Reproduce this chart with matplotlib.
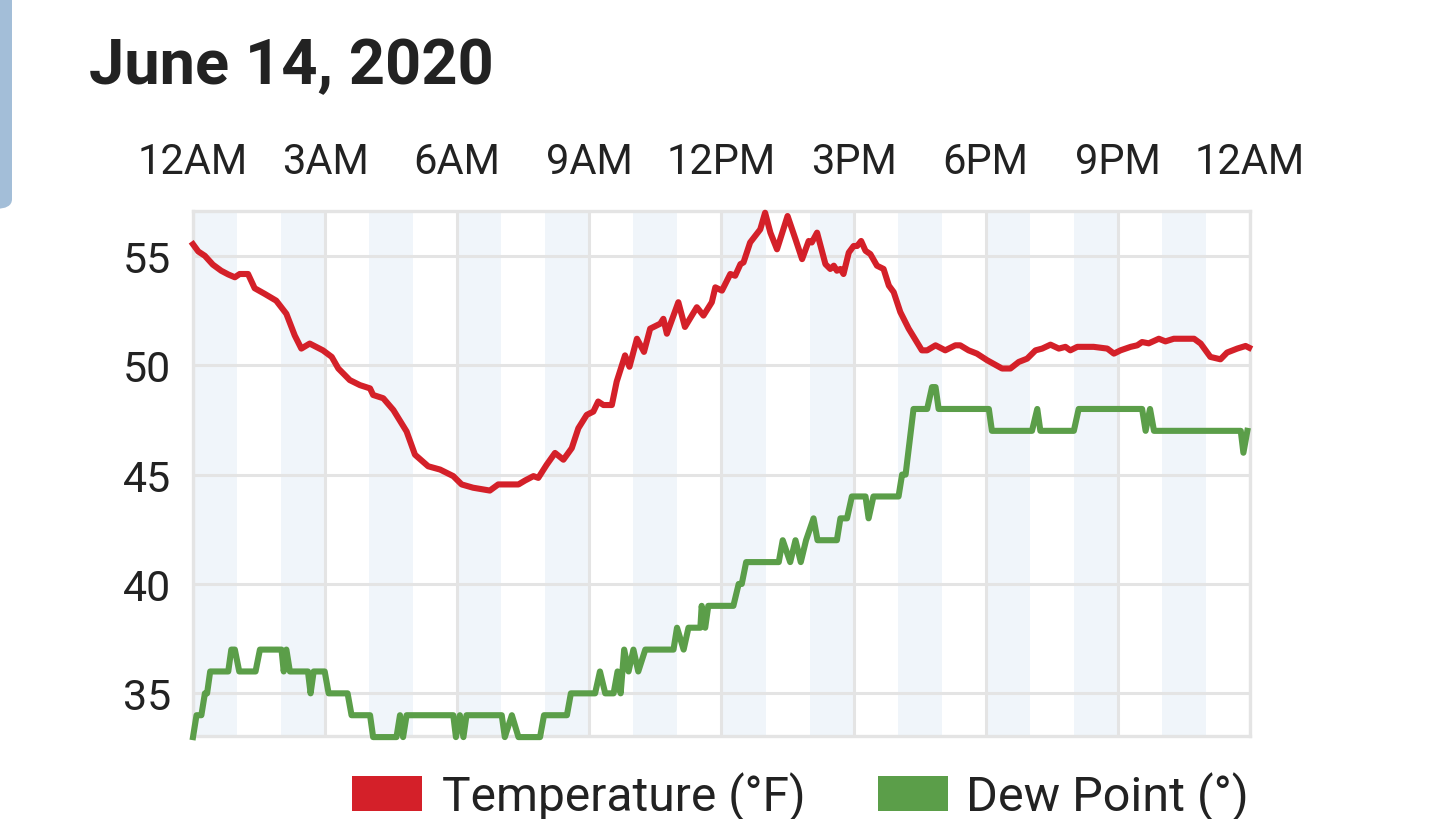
import matplotlib
matplotlib.use("Agg")
import matplotlib.pyplot as plt
from matplotlib.patches import Rectangle, FancyBboxPatch

# temperature (hours since midnight, deg F)
temp_hours = [0.00, 0.12, 0.27, 0.45, 0.64, 0.80, 0.95, 1.06, 1.25, 1.40, 1.63, 1.89, 2.12, 2.31,
              2.46, 2.65, 2.95, 3.15, 3.30, 3.56, 3.79, 4.02, 4.09, 4.32, 4.55, 4.85, 5.04, 5.34,
              5.61, 5.91, 6.10, 6.36, 6.74, 6.93, 7.39, 7.54, 7.73, 7.84, 8.03, 8.22, 8.41, 8.60,
              8.75, 8.94, 9.09, 9.20, 9.32, 9.51, 9.62, 9.81, 9.91, 10.08, 10.24, 10.38, 10.61,
              10.68, 10.76, 11.02, 11.17, 11.44, 11.59, 11.78, 11.86, 12.01, 12.20, 12.31, 12.43,
              12.50, 12.65, 12.88, 12.99, 13.11, 13.26, 13.50, 13.68, 13.83, 13.98, 14.05, 14.17,
              14.36, 14.47, 14.55, 14.62, 14.70, 14.77, 14.89, 15.00, 15.08, 15.17, 15.27, 15.38,
              15.53, 15.68, 15.80, 15.91, 16.06, 16.25, 16.55, 16.67, 16.86, 17.08, 17.31, 17.42,
              17.61, 17.80, 18.03, 18.37, 18.56, 18.75, 18.94, 19.13, 19.28, 19.47, 19.66, 19.81,
              19.92, 20.08, 20.45, 20.76, 20.91, 21.06, 21.29, 21.44, 21.55, 21.70, 21.93, 22.08,
              22.27, 22.73, 22.88, 23.10, 23.33, 23.48, 23.71, 23.90, 23.98]
temp_values = [55.53, 55.2, 55.0, 54.6, 54.32, 54.15, 54.02, 54.17, 54.17, 53.52, 53.26, 52.95,
               52.35, 51.36, 50.76, 50.99, 50.68, 50.38, 49.85, 49.32, 49.09, 48.94, 48.64, 48.49,
               47.95, 46.97, 45.91, 45.38, 45.23, 44.93, 44.55, 44.40, 44.27, 44.55, 44.55, 44.73,
               44.93, 44.85, 45.45, 45.99, 45.68, 46.21, 47.12, 47.73, 47.88, 48.34, 48.18, 48.18,
               49.25, 50.45, 49.93, 51.21, 50.61, 51.67, 51.90, 52.12, 51.44, 52.88, 51.75, 52.65,
               52.27, 52.88, 53.56, 53.41, 54.17, 54.09, 54.62, 54.70, 55.61, 56.21, 56.97, 56.06,
               55.30, 56.82, 55.76, 54.85, 55.68, 55.61, 56.06, 54.62, 54.40, 54.55, 54.32, 54.40,
               54.17, 55.15, 55.45, 55.45, 55.68, 55.23, 55.08, 54.55, 54.40, 53.64, 53.34, 52.43,
               51.67, 50.68, 50.68, 50.91, 50.68, 50.91, 50.91, 50.68, 50.53, 50.23, 49.85, 49.85,
               50.15, 50.30, 50.68, 50.76, 50.94, 50.76, 50.84, 50.68, 50.84, 50.84, 50.76, 50.53,
               50.68, 50.84, 50.91, 51.06, 51.00, 51.21, 51.09, 51.21, 51.21, 50.99, 50.38, 50.27,
               50.58, 50.76, 50.88, 50.80]

# dew point (hours since midnight, deg)
dew_hours = [0.00, 0.08, 0.19, 0.27, 0.32, 0.39, 0.80, 0.87, 0.95, 1.05, 1.42, 1.52, 2.01, 2.06,
             2.12, 2.20, 2.61, 2.67, 2.74, 2.99, 3.08, 3.51, 3.60, 4.02, 4.09, 4.62, 4.70, 4.77,
             4.85, 5.91, 5.97, 6.06, 6.14, 6.21, 7.01, 7.08, 7.24, 7.39, 7.88, 7.97, 8.49, 8.58,
             9.13, 9.24, 9.36, 9.55, 9.64, 9.71, 9.79, 9.89, 10.00, 10.11, 10.27, 10.91, 10.99,
             11.14, 11.25, 11.52, 11.55, 11.63, 11.70, 12.27, 12.39, 12.46, 12.56, 13.30, 13.39,
             13.56, 13.68, 13.80, 13.92, 14.09, 14.18, 14.62, 14.70, 14.85, 14.96, 15.27, 15.34,
             15.45, 16.02, 16.10, 16.18, 16.36, 16.67, 16.78, 16.86, 16.93, 18.07, 18.14, 19.05,
             19.17, 19.24, 20.00, 20.11, 21.55, 21.63, 21.73, 21.82, 23.79, 23.85, 23.94]
dew_values = [33, 34, 34, 35, 35, 36, 36, 37, 37, 36, 36, 37, 37, 36,
              37, 36, 36, 35, 36, 36, 35, 35, 34, 34, 33, 33, 34, 33,
              34, 34, 33, 34, 33, 34, 34, 33, 34, 33, 33, 34, 34, 35,
              35, 36, 35, 35, 36, 35, 37, 36, 37, 36, 37, 37, 38,
              37, 38, 38, 39, 38, 39, 39, 40, 40, 41, 41, 42,
              41, 42, 41, 42, 43, 42, 42, 43, 43, 44, 44, 43,
              44, 44, 45, 45, 48, 48, 49, 49, 48, 48, 47, 47,
              48, 47, 47, 48, 48, 47, 48, 47, 47, 46, 47]

tick_hours = [0, 3, 6, 9, 12, 15, 18, 21, 24]
tick_labels = ["12AM", "3AM", "6AM", "9AM", "12PM", "3PM", "6PM", "9PM", "12AM"]
y_ticks = [35, 40, 45, 50, 55]

RED = "#d42029"
GREEN = "#5b9e49"
GRID = "#e4e4e4"
TEXT = "#222222"

plt.rcParams["font.family"] = ["Roboto", "DejaVu Sans"]

fig = plt.figure(figsize=(14.4, 8.2), dpi=100)
ax = fig.add_axes([193 / 1440, 1 - 737 / 820, (1250 - 193) / 1440, (737 - 212) / 820])

# alternating hour bands
for h in range(0, 24, 2):
    ax.axvspan(h, h + 1, color="#f0f5fa", lw=0, zorder=0)

ax.plot(temp_hours, temp_values, color=RED, lw=4.4, zorder=3, clip_on=False)
ax.plot(dew_hours, dew_values, color=GREEN, lw=4.4, zorder=3, clip_on=False)

ax.set_xlim(0, 24)
ax.set_ylim(33.05, 57.05)
ax.set_xticks(tick_hours)
ax.set_xticklabels(tick_labels)
ax.set_yticks(y_ticks)
ax.xaxis.tick_top()
ax.tick_params(axis="x", length=0, pad=21, labelsize=30, labelcolor=TEXT)
ax.tick_params(axis="y", length=0, pad=16, labelsize=31, labelcolor=TEXT)
ax.grid(True, color=GRID, lw=2.2, zorder=1)
ax.set_axisbelow(True)
for s in ax.spines.values():
    s.set_color(GRID)
    s.set_linewidth(2.4)

fig.text(89 / 1440, 1 - 84 / 820, "June 14, 2020", fontsize=45.5, fontweight="bold",
         color=TEXT, ha="left", va="baseline")

# side tab on the left edge
fig.patches.append(FancyBboxPatch((-20 / 1440, 1 - 210 / 820), 32 / 1440, 230 / 820,
                                  boxstyle="round,pad=0,rounding_size=0.012",
                                  transform=fig.transFigure, facecolor="#a3bed8",
                                  edgecolor="none"))

# legend
fig.patches.append(Rectangle((352 / 1440, 1 - 812 / 820), 70 / 1440, 35 / 820,
                             transform=fig.transFigure, facecolor=RED, edgecolor="none"))
fig.text(442 / 1440, 1 - 811 / 820, "Temperature (°F)", fontsize=34.5, color=TEXT,
         ha="left", va="baseline")
fig.patches.append(Rectangle((878 / 1440, 1 - 812 / 820), 70 / 1440, 35 / 820,
                             transform=fig.transFigure, facecolor=GREEN, edgecolor="none"))
fig.text(966 / 1440, 1 - 811 / 820, "Dew Point (°)", fontsize=35, color=TEXT,
         ha="left", va="baseline")

fig.savefig("out.png", dpi=100)
